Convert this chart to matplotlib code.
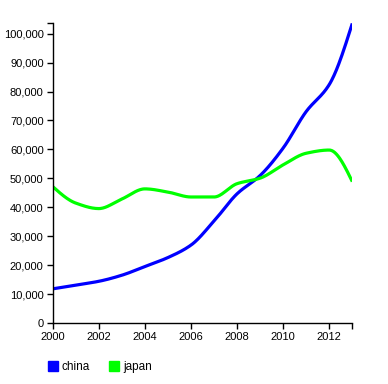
import numpy as np
import matplotlib.pyplot as plt
from matplotlib.lines import Line2D
from matplotlib.ticker import FuncFormatter

plt.rcParams['font.family'] = ['Liberation Sans', 'DejaVu Sans']

years = [2000, 2001, 2002, 2003, 2004, 2005, 2006, 2007, 2008, 2009, 2010, 2011, 2012, 2013]
china = [11900, 13200, 14500, 16600, 19600, 22700, 27000, 35300, 44700, 51000, 60500, 73100, 82400, 103500]
japan = [47200, 41500, 39600, 42900, 46400, 45300, 43600, 43600, 48200, 50100, 54700, 58700, 59800, 48900]


def monotone(x, y, n=30):
    """ Fritsch-Carlson monotone cubic, like d3.curveMonotoneX. """
    x = np.asarray(x, float)
    y = np.asarray(y, float)
    h = np.diff(x)
    d = np.diff(y) / h
    m = np.zeros_like(y)
    for i in range(1, len(y) - 1):
        if d[i - 1] * d[i] > 0:
            m[i] = 3 * (h[i - 1] + h[i]) / ((2 * h[i] + h[i - 1]) / d[i - 1] + (h[i] + 2 * h[i - 1]) / d[i])
    m[0] = (3 * d[0] - m[1]) / 2
    m[-1] = (3 * d[-1] - m[-2]) / 2
    xs, ys = [], []
    for i in range(len(h)):
        t = np.linspace(0, 1, n)
        h00 = 2 * t**3 - 3 * t**2 + 1
        h10 = t**3 - 2 * t**2 + t
        h01 = -2 * t**3 + 3 * t**2
        h11 = t**3 - t**2
        xs.extend(x[i] + t * h[i])
        ys.extend(h00 * y[i] + h10 * h[i] * m[i] + h01 * y[i + 1] + h11 * h[i] * m[i + 1])
    return np.array(xs), np.array(ys)


fig = plt.figure(figsize=(3.88, 3.84), dpi=100)
ax = fig.add_axes([0.1358, 0.158, 0.7722, 0.781])

for vals, col in [(china, '#0000ff'), (japan, '#00ff00')]:
    sx, sy = monotone(years, vals)
    ax.plot(sx, sy, color=col, lw=2.3, solid_capstyle='butt')

ax.set_xlim(2000, 2013)
ax.set_ylim(0, max(china))
ax.set_xticks(range(2000, 2013, 2))
ax.set_xticks([2013], minor=True)
ax.set_yticks(range(0, 100001, 10000))
ax.set_yticks([max(china)], minor=True)
ax.yaxis.set_major_formatter(FuncFormatter(lambda v, p: f'{int(v):,}'))
ax.xaxis.set_major_formatter(FuncFormatter(lambda v, p: f'{int(v)}'))

for s in ['top', 'right']:
    ax.spines[s].set_visible(False)
for s in ['left', 'bottom']:
    ax.spines[s].set_linewidth(1.0)
ax.tick_params(which='both', direction='out', length=4.5, width=1.0, labelsize=8, pad=2)
ax.tick_params(which='minor', labelleft=False, labelbottom=False)

handles = [Line2D([], [], ls='none', marker='s', ms=7.5, color='#0000ff'),
           Line2D([], [], ls='none', marker='s', ms=7.5, color='#00ff00')]
fig.legend(handles, ['china', 'japan'], loc='center left', bbox_to_anchor=(0.123, 0.044),
           ncol=2, frameon=False, fontsize=8.5, handlelength=0.9, handletextpad=0.3,
           columnspacing=1.6, borderpad=0, borderaxespad=0)

fig.savefig('out.png', dpi=100)
